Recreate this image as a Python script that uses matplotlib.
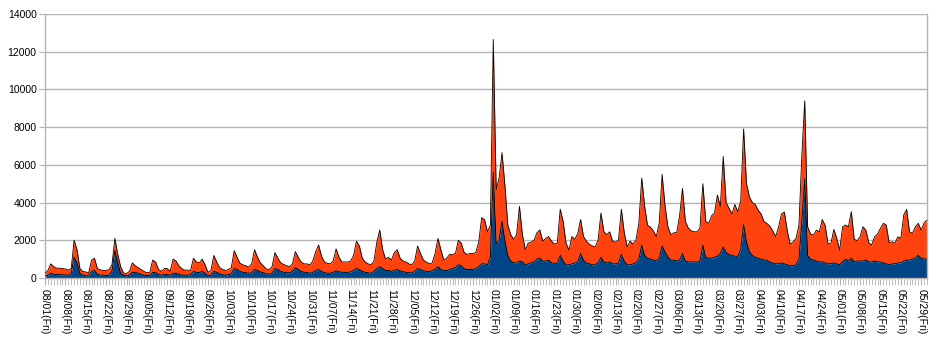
import matplotlib
matplotlib.use("Agg")
import matplotlib.pyplot as plt
import numpy as np
import pandas as pd

# Daily counts, 2008-08-01 .. 2009-05-31 (one value per day)
start_date = "2008-08-01"

total = [
    250, 400, 750, 600, 520, 520, 500,
    480, 420, 500, 2000, 1500, 500, 350,
    320, 280, 950, 1050, 500, 430, 400,
    400, 450, 700, 2100, 1250, 600, 260,
    240, 350, 800, 650, 550, 450, 350,
    280, 300, 950, 850, 450, 350, 500,
    500, 350, 1000, 900, 650, 500, 420,
    420, 400, 1050, 850, 800, 1000, 700,
    300, 400, 1200, 850, 550, 450, 400,
    450, 550, 1450, 1100, 780, 700, 650,
    580, 750, 1500, 1100, 800, 650, 480,
    450, 600, 1350, 1050, 800, 720, 650,
    600, 750, 1400, 1100, 850, 750, 750,
    700, 900, 1400, 1750, 1150, 850, 780,
    750, 900, 1550, 1100, 850, 850, 850,
    900, 1200, 1950, 1700, 1050, 850, 750,
    700, 900, 1900, 2550, 1500, 1000, 1100,
    950, 1350, 1500, 1050, 900, 850, 750,
    700, 900, 1700, 1300, 950, 850, 750,
    800, 1300, 2100, 1500, 950, 1050, 1250,
    1250, 1300, 2000, 1850, 1350, 1250, 1300,
    1300, 1350, 1900, 3200, 3100, 2450, 2800,
    12650, 4700, 5300, 6650, 4900, 2800, 2300,
    2050, 2300, 3800, 2300, 1500, 1850, 1900,
    2000, 2400, 2550, 1950, 2100, 2200, 1950,
    1800, 1850, 3650, 3000, 1850, 1480, 2200,
    2050, 2350, 3100, 2200, 1950, 1800, 1700,
    1650, 2000, 3450, 2450, 2300, 2450, 1950,
    1900, 2000, 3650, 2400, 1650, 1950, 1800,
    2000, 2900, 5300, 3800, 2800, 2700, 2500,
    2200, 2900, 5500, 3850, 2700, 2300, 2400,
    2400, 3300, 4750, 3000, 2650, 2500, 2450,
    2450, 2650, 5000, 3000, 2900, 3300, 3450,
    4400, 3800, 6450, 4000, 3700, 3400, 3900,
    3500, 4100, 7900, 5000, 4300, 4000, 3900,
    3600, 3400, 3000, 2900, 2750, 2500, 2200,
    2700, 3400, 3500, 2500, 1800, 1900, 2100,
    2800, 6500, 9400, 2700, 2330, 2280, 2540,
    2450, 3100, 2800, 1800, 1840, 2580, 2100,
    1480, 2720, 2810, 2720, 3520, 2050, 1980,
    2190, 2720, 2540, 1870, 1750, 2190, 2330,
    2630, 2900, 2810, 1870, 1920, 1840, 2190,
    2100, 3340, 3640, 2450, 2370, 2720, 2900,
    2540, 2930, 3070,
]

lower = [
    120, 150, 250, 200, 180, 180, 170,
    160, 150, 250, 1100, 800, 250, 150,
    120, 120, 350, 400, 200, 150, 150,
    130, 150, 350, 1450, 800, 250, 130,
    120, 150, 300, 300, 250, 200, 150,
    130, 130, 300, 280, 180, 150, 200,
    180, 150, 250, 250, 200, 150, 150,
    150, 180, 350, 300, 280, 350, 250,
    120, 150, 350, 300, 220, 180, 150,
    180, 220, 500, 450, 350, 300, 280,
    250, 280, 450, 400, 320, 280, 220,
    200, 250, 500, 450, 350, 300, 280,
    280, 350, 550, 450, 350, 300, 300,
    250, 300, 400, 450, 350, 280, 250,
    250, 300, 380, 330, 300, 300, 300,
    320, 400, 500, 450, 350, 300, 280,
    250, 350, 500, 600, 500, 400, 400,
    350, 400, 450, 380, 330, 300, 280,
    270, 350, 500, 450, 380, 350, 330,
    380, 450, 600, 450, 400, 400, 450,
    500, 550, 700, 650, 500, 450, 450,
    450, 500, 600, 750, 750, 700, 1100,
    5600, 1800, 2000, 3000, 2000, 1200, 900,
    800, 800, 900, 850, 700, 750, 800,
    850, 1000, 1050, 900, 900, 950, 800,
    780, 780, 1200, 900, 700, 700, 750,
    800, 850, 1300, 950, 800, 750, 700,
    700, 800, 1100, 850, 800, 850, 750,
    750, 800, 1250, 900, 700, 700, 750,
    800, 1000, 1750, 1200, 1050, 1000, 950,
    900, 1050, 1700, 1400, 1100, 950, 950,
    900, 950, 1300, 900, 850, 850, 850,
    850, 900, 1750, 1100, 1050, 1050, 1100,
    1150, 1300, 1650, 1350, 1250, 1200, 1150,
    1150, 1500, 2850, 1900, 1400, 1200, 1100,
    1050, 1000, 950, 950, 850, 800, 750,
    750, 800, 750, 700, 650, 650, 700,
    1000, 3000, 5250, 1200, 1000, 950, 900,
    850, 850, 800, 750, 750, 800, 750,
    700, 850, 1000, 900, 1050, 850, 900,
    900, 900, 950, 850, 850, 900, 850,
    850, 800, 750, 700, 750, 750, 800,
    800, 900, 950, 950, 1000, 1050, 1200,
    1050, 1000, 1000,
]

blue = "#004586"
orange = "#ff420e"
grid_grey = "#b3b3b3"

plt.rcParams["font.family"] = ["Liberation Sans", "DejaVu Sans"]

dates = pd.date_range(start_date, periods=len(total), freq="D")
x = np.arange(len(total))
total_arr = np.asarray(total, dtype=float)
lower_arr = np.asarray(lower, dtype=float)

fig = plt.figure(figsize=(9.4, 3.5), dpi=100)
ax = fig.add_axes([45 / 940, 1 - 278 / 350, 882 / 940, 264 / 350])

ax.fill_between(x, 0, lower_arr, color=blue, linewidth=0, zorder=2)
ax.fill_between(x, lower_arr, total_arr, color=orange, linewidth=0, zorder=2)
ax.plot(x, lower_arr, color="black", linewidth=0.6, zorder=3)
ax.plot(x, total_arr, color="black", linewidth=0.6, zorder=3)

ax.set_xlim(0, len(total) - 1)
ax.set_ylim(0, 14000)

ax.set_yticks(np.arange(0, 14001, 2000))
ax.yaxis.grid(True, color=grid_grey, linewidth=1.0, zorder=0)
ax.set_axisbelow(True)

weekly = x[::7]
ax.set_xticks(weekly)
ax.set_xticklabels([d.strftime("%m/%d(%a)") for d in dates[::7]], rotation=-90,
                   fontsize=7.5, va="top", ha="center")
ax.set_xticks(x, minor=True)

ax.tick_params(axis="y", labelsize=7.5, length=4, color=grid_grey, pad=2)
ax.tick_params(axis="x", which="both", length=5, color=grid_grey, pad=3)

for side in ("left", "right", "top", "bottom"):
    ax.spines[side].set_color(grid_grey)
    ax.spines[side].set_linewidth(1.0)
ax.spines["top"].set_visible(False)

fig.savefig("out.png", dpi=100)
